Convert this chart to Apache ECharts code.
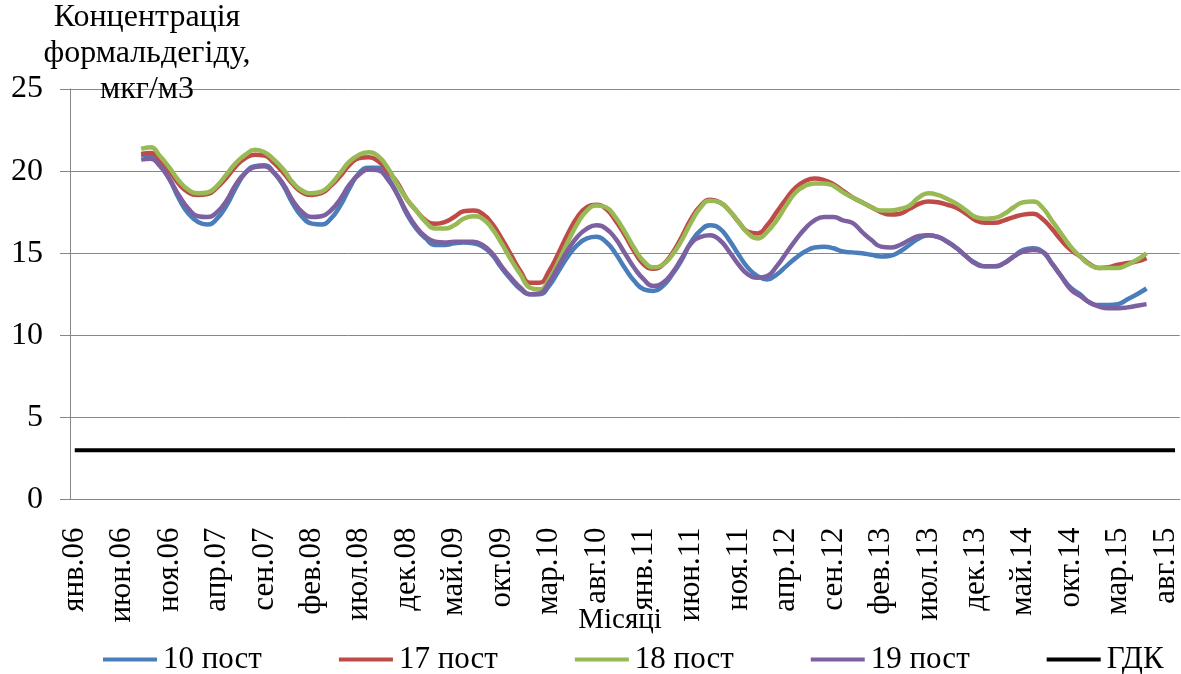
<!DOCTYPE html>
<html><head><meta charset="utf-8">
<script src="https://cdn.jsdelivr.net/npm/echarts@6/dist/echarts.min.js"></script>
<style>html,body{margin:0;padding:0;background:#fff}#c{width:1181px;height:674px}</style>
</head><body><div id="c"></div>
<script>
// Month names and years for the category axis (янв.06 … сен.15)
const monthNames = ['янв','фев','мар','апр','май','июн','июл','авг','сен','окт','ноя','дек'];
const years = ['06','07','08','09','10','11','12','13','14','15'];
const lastMonthIndexOf2015 = 8; // сен.15 (one empty slot after авг.15)
const categories = [];
years.forEach((y, yi) => monthNames.forEach((m, mi) => {
  if (yi < years.length - 1 || mi <= lastMonthIndexOf2015) categories.push(m + '.' + y);
}));

// Values start at авг.06 and end at июн.15
const startCategory = 'авг.06';
const post10 = [21.0,21.0,20.4,19.5,18.3,17.4,16.9,16.75,17.1,17.9,
  19.0,19.9,20.3,20.35,19.9,19.1,18.0,17.2,16.8,16.75,
  17.1,17.9,19.0,19.9,20.2,20.2,19.6,18.6,17.4,16.5,
  15.9,15.5,15.5,15.6,15.65,15.6,15.4,14.9,14.1,13.4,
  12.8,12.5,12.5,13.0,13.9,14.8,15.5,15.9,16.0,15.7,
  15.0,14.1,13.3,12.8,12.7,13.0,13.7,14.6,15.7,16.4,
  16.7,16.5,15.8,14.9,14.1,13.6,13.4,13.7,14.2,14.7,
  15.1,15.35,15.4,15.3,15.1,15.05,15.0,14.9,14.8,14.85,
  15.1,15.5,15.9,16.1,16.0,15.7,15.3,14.8,14.4,14.2,
  14.2,14.4,14.8,15.2,15.3,15.1,14.4,13.6,12.9,12.5,
  12.0,11.85,11.85,11.9,12.2,12.5,12.85];
const post17 = [21.05,21.1,20.7,20.0,19.2,18.7,18.55,18.6,19.0,19.6,
  20.3,20.8,21.0,20.95,20.5,19.9,19.2,18.7,18.55,18.65,
  19.1,19.7,20.4,20.8,20.85,20.6,20.0,19.3,18.3,17.6,
  17.0,16.8,16.9,17.2,17.55,17.6,17.4,16.8,15.9,14.9,
  13.9,13.2,13.2,13.9,15.0,16.2,17.2,17.8,17.95,17.7,
  17.0,16.1,15.1,14.3,14.05,14.3,15.0,16.0,17.1,17.9,
  18.25,18.1,17.6,16.9,16.3,16.2,16.7,17.5,18.3,19.0,
  19.4,19.55,19.45,19.2,18.8,18.4,18.1,17.8,17.5,17.35,
  17.4,17.7,18.0,18.15,18.1,17.95,17.75,17.4,17.0,16.85,
  16.85,17.0,17.2,17.35,17.4,17.1,16.5,15.8,15.2,14.8,
  14.35,14.1,14.15,14.3,14.4,14.5,14.7];
const post18 = [21.35,21.45,20.9,20.2,19.4,18.85,18.65,18.7,19.1,19.8,
  20.5,21.0,21.3,21.15,20.7,20.1,19.3,18.8,18.65,18.75,
  19.2,19.9,20.6,21.0,21.15,20.9,20.2,19.2,18.3,17.6,
  16.9,16.5,16.5,16.7,17.1,17.25,17.1,16.5,15.6,14.6,
  13.7,12.9,12.8,13.4,14.5,15.7,16.8,17.6,17.9,17.8,
  17.2,16.3,15.3,14.5,14.15,14.3,14.9,15.8,16.9,17.8,
  18.2,18.1,17.6,16.9,16.2,15.9,16.3,17.0,17.9,18.7,
  19.1,19.25,19.25,19.1,18.7,18.4,18.1,17.8,17.6,17.6,
  17.7,17.9,18.4,18.65,18.55,18.3,18.0,17.6,17.2,17.1,
  17.15,17.4,17.8,18.1,18.15,17.8,17.0,16.2,15.4,14.8,
  14.3,14.1,14.1,14.1,14.3,14.6,15.0];
const post19 = [20.7,20.75,20.3,19.5,18.5,17.7,17.25,17.2,17.5,18.2,
  19.2,19.9,20.25,20.3,19.9,19.2,18.2,17.5,17.2,17.25,
  17.6,18.3,19.2,19.8,20.1,20.05,19.5,18.6,17.5,16.6,
  16.0,15.7,15.65,15.7,15.7,15.7,15.5,15.0,14.2,13.5,
  12.9,12.5,12.55,13.2,14.2,15.2,16.0,16.5,16.7,16.5,
  15.9,15.0,14.1,13.4,13.0,13.2,13.8,14.7,15.6,16.0,
  16.1,15.8,15.1,14.3,13.7,13.5,13.6,14.2,15.0,15.8,
  16.5,17.0,17.2,17.2,17.0,16.85,16.3,15.8,15.4,15.35,
  15.5,15.8,16.05,16.1,16.0,15.7,15.3,14.8,14.35,14.2,
  14.2,14.4,14.8,15.1,15.2,15.1,14.4,13.6,12.8,12.4,
  12.0,11.75,11.65,11.65,11.7,11.8,11.9];
const gdkValue = 3;

const seriesNames = ['10 пост','17 пост','18 пост','19 пост','ГДК'];
const yTitle = 'Концентрація\nформальдегіду,\nмкг/м3';
const xTitle = 'Місяці';

function pad(vals){
  const s = categories.indexOf(startCategory);
  return categories.map((c,i) => (i >= s && i - s < vals.length) ? vals[i - s] : null);
}
const gdk = categories.map(() => gdkValue);

const FONT = 'Liberation Serif';
const colors = ['#4A7EBB','#BE4B48','#98B954','#7D60A0','#000000'];
const chart = echarts.init(document.getElementById('c'), null, {renderer:'canvas'});
const mk = (name, data, color) => ({
  name, type:'line', data, smooth:true, symbol:'none', connectNulls:false,
  lineStyle:{width:4.5, color}, itemStyle:{color}, animation:false
});
chart.setOption({
  animation:false,
  textStyle:{fontFamily:FONT, color:'#000'},
  grid:{left:70, right:1, top:89, bottom:174.5, containLabel:false},
  xAxis:{type:'category', data:categories, boundaryGap:true,
    axisLine:{show:true, lineStyle:{color:'#868686', width:1}},
    axisTick:{show:false},
    axisLabel:{interval:4, rotate:90, margin:28, fontSize:31, fontFamily:FONT, color:'#000'},
    splitLine:{show:false}},
  yAxis:{type:'value', min:0, max:25, interval:5,
    axisLine:{show:true, lineStyle:{color:'#868686', width:1}},
    axisTick:{show:true, length:10, lineStyle:{color:'#868686'}},
    axisLabel:{margin:27, fontSize:32, fontFamily:FONT, color:'#000'},
    splitLine:{show:true, lineStyle:{color:'#868686', width:1}}},
  legend:{data:seriesNames, left:103, top:644, icon:'rect', itemWidth:54, itemHeight:4,
    itemGap:77, padding:0, textStyle:{fontSize:31, fontFamily:FONT, color:'#000', padding:[0,0,0,1]}},
  graphic:[
    {type:'text', x:147, y:0, style:{text:yTitle, font:'32px "Liberation Serif"', fill:'#000', textAlign:'center', lineHeight:36}, z:100},
    {type:'text', x:620, y:620, style:{text:xTitle, font:'29px "Liberation Serif"', fill:'#000', textAlign:'center', textVerticalAlign:'middle'}, z:100}
  ],
  series:[
    mk(seriesNames[0], pad(post10), colors[0]),
    mk(seriesNames[1], pad(post17), colors[1]),
    mk(seriesNames[2], pad(post18), colors[2]),
    mk(seriesNames[3], pad(post19), colors[3]),
    Object.assign(mk(seriesNames[4], gdk, colors[4]), {smooth:false, lineStyle:{width:4, color:colors[4]}})
  ]
});
</script></body></html>
